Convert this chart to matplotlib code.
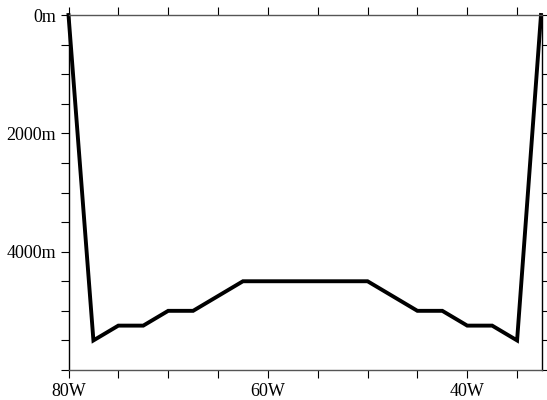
import matplotlib
matplotlib.use("Agg")
import matplotlib.pyplot as plt
from matplotlib.ticker import MultipleLocator, FuncFormatter

plt.rcParams['font.family'] = ['Liberation Serif', 'DejaVu Serif']

# разрез: долгота (градусы з.д.) и глубина (м)
lon_w = [80, 77.5, 75, 72.5, 70, 67.5, 62.5, 50, 45, 42.5, 40, 37.5, 35, 32.6]
depth = [0, 5500, 5250, 5250, 5000, 5000, 4500, 4500, 5000, 5000, 5250, 5250, 5500, 0]

x_ticks = [80, 60, 40]
y_ticks = [0, 2000, 4000]

fig = plt.figure(figsize=(5.47, 4.0), dpi=100)
ax = fig.add_axes([68.5 / 547, 1 - 370 / 400, (542 - 68.5) / 547, 355 / 400])

ax.plot([-v for v in lon_w], depth, color="black", linewidth=2.8,
        solid_joinstyle="miter", clip_on=False)

ax.set_xlim(-80, -32.5)
ax.set_ylim(6000, 0)

ax.set_xticks([-v for v in x_ticks])
ax.set_yticks(y_ticks)
ax.xaxis.set_minor_locator(MultipleLocator(5))
ax.yaxis.set_minor_locator(MultipleLocator(500))
ax.xaxis.set_major_formatter(FuncFormatter(lambda v, p: "%dW" % round(-v)))
ax.yaxis.set_major_formatter(FuncFormatter(lambda v, p: "%dm" % round(v)))

ax.tick_params(which="both", direction="out", length=6, width=0.8,
               top=True, right=True, labeltop=False, labelright=False,
               labelsize=13, colors="black", pad=3)

for side in ["left", "right"]:
    ax.spines[side].set_color("black")
    ax.spines[side].set_linewidth(1.0)
for side in ["top", "bottom"]:
    ax.spines[side].set_color("#555555")
    ax.spines[side].set_linewidth(1.0)

plt.savefig("out.png", dpi=100)
